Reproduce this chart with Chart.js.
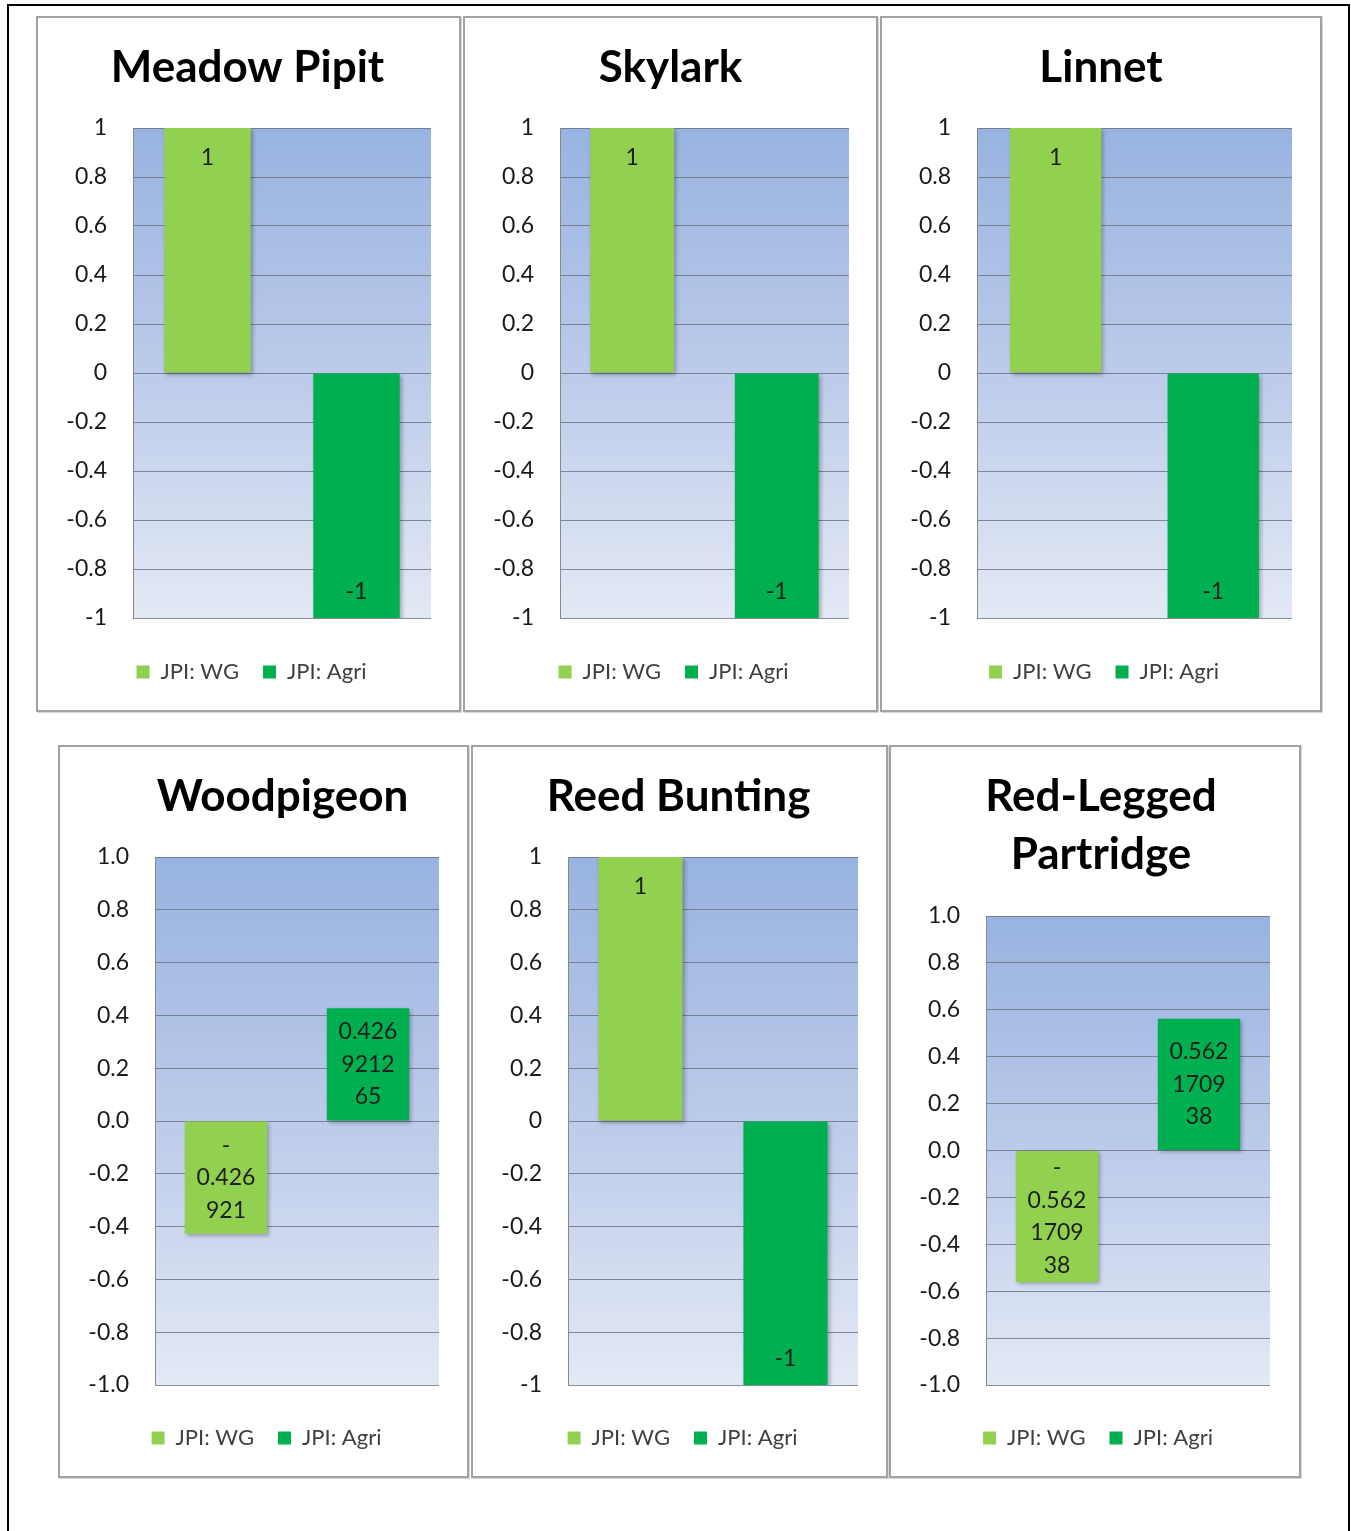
<!DOCTYPE html>
<html>
<head>
<meta charset="utf-8">
<script src="https://cdn.jsdelivr.net/npm/chart.js@4.4.1/dist/chart.umd.min.js"></script>
<style>
  html, body { margin: 0; padding: 0; background: #fff; }
  body { width: 1351px; height: 1531px; position: relative; overflow: hidden; }
  .frame { position: absolute; left: 7px; top: 4px; width: 1343px; height: 1560px; border: 2px solid #000; box-sizing: border-box; }
  .panel { position: absolute; border: 2px solid #a2a2a2; box-sizing: border-box; background: #fff; box-shadow: 1px 1px 0 #d6d6d6; }
  .panel canvas { position: absolute; left: 0; top: 0; }
</style>
</head>
<body>
<div class="frame"></div>
<div id="wrap"></div>
<script>
// --- дані ---
const species = ['Meadow Pipit', 'Skylark', 'Linnet', 'Woodpigeon', 'Reed Bunting', ['Red-Legged', 'Partridge']];
const seriesNames = ['JPI: WG', 'JPI: Agri'];
const wgValues = [1, 1, 1, -0.426921, 1, -0.562170938];
const agriValues = [-1, -1, -1, 0.426921265, -1, 0.562170938];
// підписи стовпців так, як їх перенесено в Excel
const wgLabels = [['1'], ['1'], ['1'], ['-', '0.426', '921'], ['1'], ['-', '0.562', '1709', '38']];
const agriLabels = [['-1'], ['-1'], ['-1'], ['0.426', '9212', '65'], ['-1'], ['0.562', '1709', '38']];
const tickDecimals = [0, 0, 0, 1, 0, 1];
const yMin = -1, yMax = 1, yStep = 0.2;

// --- розкладка (пікселі сторінки) ---
const panels = [
    { box: [36, 16, 461, 712],  plot: [133, 128, 431, 618], titleY: 68,  legendY: 672, titleShift: -1 },
    { box: [463, 16, 878, 712], plot: [560, 128, 849, 618], titleY: 68,  legendY: 672, titleShift: 0 },
    { box: [880, 16, 1322, 712], plot: [977, 128, 1292, 618], titleY: 68, legendY: 672, titleShift: 0 },
    { box: [58, 745, 469, 1478], plot: [155, 857, 439, 1385], titleY: 797, legendY: 1438, titleShift: 19 },
    { box: [471, 745, 888, 1478], plot: [568, 857, 858, 1385], titleY: 797, legendY: 1438, titleShift: -1 },
    { box: [889, 745, 1301, 1478], plot: [986, 916, 1270, 1385], titleY: 797, legendY: 1438, titleShift: 6 }
];

const colors = { wg: '#92d050', agri: '#00b050' };
const FONT = 'Lato';
const titleSize = 44, titleLH = 58;
const textSize = 23;
const legendSize = 22, legendPad = 24, legendShift = 3;

// фон області побудови з градієнтом
const plotBg = {
    id: 'plotBg',
    beforeDraw(chart) {
        const { ctx, chartArea: a } = chart;
        const g = ctx.createLinearGradient(0, a.top, 0, a.bottom);
        g.addColorStop(0, '#98b3e0');
        g.addColorStop(0.5, '#bccbea');
        g.addColorStop(1, '#e3e9f5');
        ctx.save();
        ctx.fillStyle = g;
        ctx.fillRect(a.left, a.top, a.right - a.left, a.bottom - a.top);
        ctx.restore();
    }
};

// зсув заголовка й легенди як в Excel
const shiftBoxes = {
    id: 'shiftBoxes',
    afterLayout(chart, args, opts) {
        const t = chart.titleBlock, l = chart.legend;
        if (t) { t.left += opts.title; t.right += opts.title; }
        if (l) { l.left += opts.legend; l.right += opts.legend; }
    }
};

// легка тінь під стовпцями
const barShadow = {
    id: 'barShadow',
    beforeDatasetDraw(chart) {
        const ctx = chart.ctx;
        ctx.save();
        ctx.shadowColor = 'rgba(0,0,0,0.28)';
        ctx.shadowBlur = 4;
        ctx.shadowOffsetX = 2;
        ctx.shadowOffsetY = 2;
    },
    afterDatasetDraw(chart) { chart.ctx.restore(); }
};

// підписи значень у стовпцях
const barLabels = {
    id: 'barLabels',
    afterDatasetsDraw(chart) {
        const ctx = chart.ctx;
        const lh = 32.5;
        ctx.save();
        ctx.font = `${textSize}px ${FONT}`;
        ctx.fillStyle = '#1e1e1e';
        ctx.textAlign = 'center';
        ctx.textBaseline = 'middle';
        chart.data.datasets.forEach((ds, di) => {
            const bar = chart.getDatasetMeta(di).data[0];
            const lines = ds.labelLines;
            const top = Math.min(bar.y, bar.base), bottom = Math.max(bar.y, bar.base);
            let y0;
            if (lines.length === 1) {
                y0 = ds.data[0] >= 0 ? top + 30 : bottom - 26;
            } else {
                y0 = (top + bottom) / 2 - (lines.length - 1) * lh / 2;
            }
            lines.forEach((t, i) => ctx.fillText(t, bar.x, y0 + i * lh));
        });
        ctx.restore();
    }
};

const wrap = document.getElementById('wrap');

panels.forEach((p, i) => {
    const [bl, bt, br, bb] = p.box;
    const [pl, pt, pr, pb] = p.plot;
    const div = document.createElement('div');
    div.className = 'panel';
    div.style.left = bl + 'px';
    div.style.top = bt + 'px';
    div.style.width = (br - bl) + 'px';
    div.style.height = (bb - bt) + 'px';
    const cv = document.createElement('canvas');
    const cx = bl + 2, cy = bt + 2;
    const cw = br - bl - 4, ch = bb - bt - 4;
    cv.width = cw; cv.height = ch;
    cv.style.width = cw + 'px'; cv.style.height = ch + 'px';
    div.appendChild(cv);
    wrap.appendChild(div);

    const title = species[i];
    const nLines = Array.isArray(title) ? title.length : 1;
    const tPadTop = p.titleY - cy - titleLH / 2;
    const tPadBottom = (pt - cy) - tPadTop - nLines * titleLH;
    const legendH = legendSize + legendPad + 10;
    const legendTop = p.legendY - cy - legendPad - legendSize / 2;
    const gapBelow = legendTop - (pb - cy);
    const padBottom = ch - legendTop - legendH;
    const leftW = pl - cx;
    const rightW = cx + cw - pr;
    const dec = tickDecimals[i];

    new Chart(cv, {
        type: 'bar',
        data: {
            labels: [''],
            datasets: [
                { label: seriesNames[0], data: [wgValues[i]], backgroundColor: colors.wg, labelLines: wgLabels[i] },
                { label: seriesNames[1], data: [agriValues[i]], backgroundColor: colors.agri, labelLines: agriLabels[i] }
            ]
        },
        options: {
            responsive: false,
            animation: false,
            devicePixelRatio: 1,
            layout: { padding: { left: 0, right: 0, top: 0, bottom: padBottom } },
            datasets: { bar: { barPercentage: 0.58, categoryPercentage: 1.0 } },
            plugins: {
                shiftBoxes: { title: p.titleShift, legend: legendShift },
                title: {
                    display: true, text: title, color: '#000',
                    font: { family: FONT, size: titleSize, weight: 'bold', lineHeight: titleLH / titleSize },
                    padding: { top: tPadTop, bottom: tPadBottom }
                },
                legend: {
                    position: 'bottom',
                    labels: {
                        boxWidth: 13, boxHeight: 13, padding: legendPad, color: '#404040',
                        font: { family: FONT, size: legendSize }
                    }
                },
                tooltip: { enabled: false }
            },
            scales: {
                x: {
                    ticks: { display: false },
                    grid: { display: true, drawOnChartArea: false, drawTicks: true, tickLength: gapBelow, color: 'rgba(0,0,0,0)' },
                    border: { display: false }
                },
                y: {
                    min: yMin, max: yMax,
                    ticks: {
                        stepSize: yStep, padding: 26, color: '#1a1a1a',
                        font: { family: FONT, size: textSize },
                        callback: v => dec ? v.toFixed(dec) : String(Number(v.toFixed(1)))
                    },
                    grid: { color: 'rgba(105,112,128,0.8)', lineWidth: 1, drawTicks: false },
                    border: { display: true, color: '#8a8a8a', width: 1 },
                    afterFit: s => { s.width = leftW; }
                },
                y2: {
                    position: 'right', min: yMin, max: yMax,
                    ticks: { display: false },
                    grid: { display: false },
                    border: { display: false },
                    afterFit: s => { s.width = rightW; }
                }
            }
        },
        plugins: [plotBg, shiftBoxes, barShadow, barLabels]
    });
});
</script>
</body>
</html>
